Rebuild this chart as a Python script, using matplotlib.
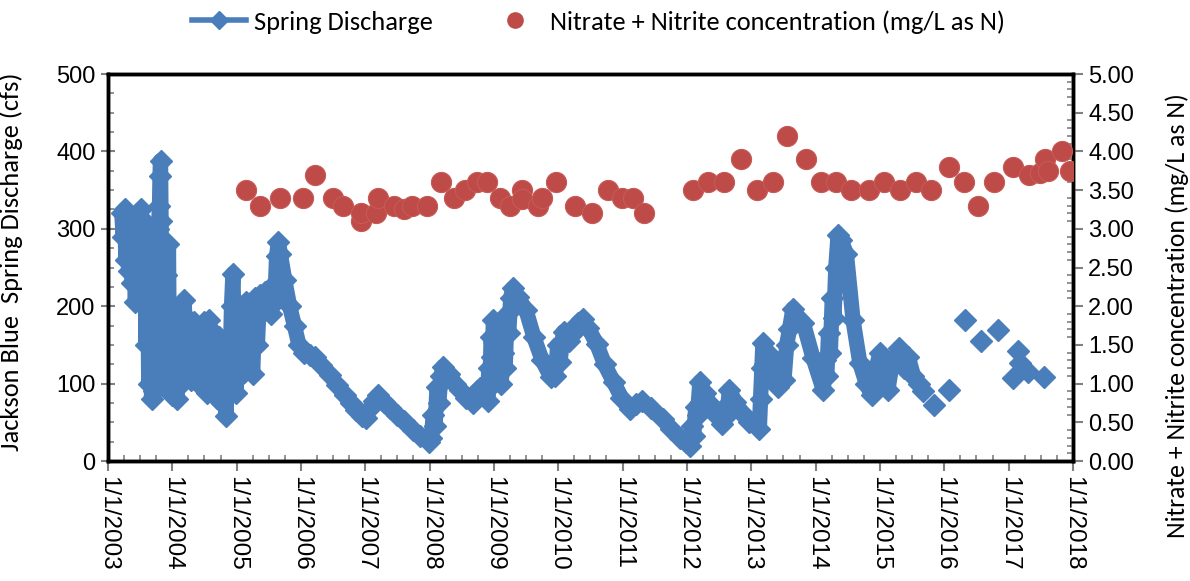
import matplotlib
matplotlib.use("Agg")
import matplotlib.pyplot as plt
import matplotlib.dates as mdates
from matplotlib.lines import Line2D
from matplotlib.ticker import MultipleLocator, FuncFormatter
import pandas as pd

# ── Spring discharge (cfs), continuous record ─────────────────────
discharge_dates = [
    # 2003
    "2003-03-20", "2003-03-28", "2003-04-05", "2003-04-12", "2003-04-20", "2003-04-28",
    "2003-05-08", "2003-05-18", "2003-05-28", "2003-06-05", "2003-06-15", "2003-06-25",
    "2003-07-05", "2003-07-15", "2003-07-25", "2003-08-05", "2003-08-12", "2003-08-20",
    "2003-08-28", "2003-09-05", "2003-09-12", "2003-09-20", "2003-09-28", "2003-10-06",
    "2003-10-14", "2003-10-20", "2003-10-23", "2003-10-26", "2003-10-29", "2003-11-05",
    "2003-11-12", "2003-11-20", "2003-11-28", "2003-12-04", "2003-12-10", "2003-12-16",
    "2003-12-22", "2003-12-31",
    # 2004
    "2004-01-05", "2004-01-15", "2004-01-28", "2004-02-10", "2004-02-22", "2004-03-02",
    "2004-03-08", "2004-03-22", "2004-04-05", "2004-04-18", "2004-05-01", "2004-05-15",
    "2004-06-01", "2004-06-15", "2004-07-01", "2004-07-15", "2004-07-28", "2004-08-10",
    "2004-08-25", "2004-09-08", "2004-09-22", "2004-10-08", "2004-10-20", "2004-10-31",
    "2004-11-12", "2004-11-22", "2004-12-02", "2004-12-10", "2004-12-18", "2004-12-28",
    # 2005
    "2005-01-08", "2005-01-18", "2005-01-30", "2005-02-10", "2005-02-22", "2005-03-05",
    "2005-03-18", "2005-04-01", "2005-04-15", "2005-04-28", "2005-05-10", "2005-05-25",
    "2005-06-08", "2005-06-20", "2005-07-01", "2005-07-12", "2005-07-25", "2005-08-05",
    "2005-08-15", "2005-08-25", "2005-09-05", "2005-09-30", "2005-10-28", "2005-11-25",
    "2005-12-20",
    # 2006
    "2006-01-20", "2006-02-20", "2006-03-20", "2006-04-25", "2006-06-15", "2006-07-25",
    "2006-09-05", "2006-10-10", "2006-11-10", "2006-12-15",
    # 2007
    "2007-01-05", "2007-02-01", "2007-02-20", "2007-03-14", "2007-04-15", "2007-05-20",
    "2007-06-28", "2007-08-10", "2007-10-01", "2007-11-10", "2007-12-31",
    # 2008
    "2008-01-10", "2008-01-22", "2008-02-01", "2008-02-12", "2008-02-22", "2008-03-05",
    "2008-03-18", "2008-04-20", "2008-05-25", "2008-06-20", "2008-07-25", "2008-09-01",
    "2008-09-25", "2008-10-15", "2008-11-05", "2008-11-25", "2008-12-02", "2008-12-08",
    "2008-12-15", "2008-12-22", "2008-12-28",
    # 2009
    "2009-01-10", "2009-01-25", "2009-02-10", "2009-02-22", "2009-03-05", "2009-03-15",
    "2009-03-25", "2009-04-05", "2009-04-16", "2009-05-15", "2009-07-01", "2009-08-15",
    "2009-10-01", "2009-11-20", "2009-12-05", "2009-12-15", "2009-12-28",
    # 2010
    "2010-01-10", "2010-01-30", "2010-03-01", "2010-03-25", "2010-04-20", "2010-05-18",
    "2010-06-20", "2010-08-07", "2010-09-20", "2010-11-10", "2010-12-25",
    # 2011
    "2011-02-10", "2011-03-20", "2011-04-20", "2011-06-10", "2011-08-18", "2011-10-01",
    "2011-11-20", "2011-12-25",
    # 2012
    "2012-01-18", "2012-01-28", "2012-02-08", "2012-02-20", "2012-03-01", "2012-03-14",
    "2012-04-10", "2012-05-15", "2012-06-20", "2012-07-20", "2012-08-05", "2012-08-15",
    "2012-08-29", "2012-10-01", "2012-11-10", "2012-12-20",
    # 2013
    "2013-02-15", "2013-02-22", "2013-03-01", "2013-03-07", "2013-03-20", "2013-04-05",
    "2013-04-25", "2013-06-01", "2013-06-20", "2013-07-05", "2013-07-20", "2013-08-05",
    "2013-08-25", "2013-09-25", "2013-10-23", "2013-12-17",
    # 2014
    "2014-02-13", "2014-02-25", "2014-03-05", "2014-03-15", "2014-03-25", "2014-04-05",
    "2014-04-15", "2014-04-25", "2014-05-08", "2014-05-25", "2014-06-24", "2014-08-01",
    "2014-09-09", "2014-10-15", "2014-11-14", "2014-12-05", "2014-12-31",
    # 2015
    "2015-01-25", "2015-02-15", "2015-03-10", "2015-04-20", "2015-05-15", "2015-06-10",
    "2015-07-10", "2015-08-10", "2015-09-01",
]
discharge_cfs = [
    # 2003
    320, 290, 325, 260, 300, 245,
    318, 230, 280, 205, 300, 215,
    325, 240, 310, 150, 290, 100,
    260, 80, 200, 90, 280, 120,
    300, 330, 368, 388, 310, 190,
    280, 110, 240, 120, 280, 100,
    200, 85,
    # 2004
    178, 95, 80, 160, 100, 190,
    208, 120, 175, 105, 180, 110,
    170, 95, 180, 88, 182, 100,
    165, 82, 160, 75, 140, 58,
    150, 100, 200, 242, 150, 88,
    # 2005
    180, 110, 200, 115, 205, 120,
    195, 112, 210, 150, 215, 192,
    218, 195, 222, 190, 225, 205,
    265, 283, 268, 234, 200, 174,
    150,
    # 2006
    139, 137, 135, 124, 111, 98,
    85, 75, 66, 58,
    # 2007
    56, 70, 78, 85, 76, 68,
    60, 52, 40, 32, 25,
    # 2008
    30, 60, 45, 95, 75, 110,
    122, 112, 100, 92, 82, 75,
    90, 94, 85, 78, 120, 95,
    160, 135, 182,
    # 2009
    160, 125, 100, 140, 120, 190,
    165, 210, 223, 212, 195, 160,
    130, 108, 125, 110, 150,
    # 2010
    128, 167, 155, 165, 178, 184,
    172, 151, 125, 102, 82,
    # 2011
    67, 74, 78, 68, 54, 42,
    30, 24,
    # 2012
    20, 45, 32, 70, 60, 102,
    88, 72, 58, 48, 70, 60,
    92, 76, 62, 50,
    # 2013
    42, 80, 120, 152, 125, 140,
    112, 96, 130, 105, 150, 170,
    197, 185, 178, 133,
    # 2014
    92, 130, 110, 165, 140, 210,
    185, 250, 292, 285, 268, 182,
    126, 100, 85, 115, 139,
    # 2015
    105, 92, 125, 146, 120, 135,
    110, 100, 90,
]

# ── Spring discharge (cfs), isolated later measurements ───────────
sparse_dates = ["2015-11-02", "2016-01-30", "2016-04-30", "2016-07-30", "2016-10-30",
                "2017-01-23", "2017-02-21", "2017-03-07", "2017-04-23", "2017-07-23"]
sparse_cfs = [72, 92, 182, 155, 169, 107, 142, 126, 115, 108]

# ── Nitrate + nitrite (mg/L as N) ─────────────────────────────────
nitrate_dates = [
    "2005-02-21", "2005-05-12", "2005-09-06", "2006-01-11", "2006-03-21", "2006-07-01",
    "2006-08-25", "2006-12-08", "2006-12-10", "2007-03-03", "2007-03-14", "2007-06-13",
    "2007-08-08", "2007-09-20", "2007-12-17", "2008-03-07", "2008-05-19", "2008-07-17",
    "2008-09-27", "2008-11-24", "2009-02-06", "2009-04-01", "2009-06-06", "2009-06-10",
    "2009-09-09", "2009-10-01", "2009-12-21", "2010-04-08", "2010-07-08", "2010-10-12",
    "2010-12-28", "2011-03-03", "2011-05-04", "2012-02-07", "2012-05-01", "2012-07-30",
    "2012-11-02", "2013-02-04", "2013-05-01", "2013-07-24", "2013-11-07", "2014-01-31",
    "2014-04-26", "2014-07-23", "2014-10-29", "2015-01-25", "2015-04-23", "2015-07-24",
    "2015-10-19", "2016-01-30", "2016-04-23", "2016-07-13", "2016-10-12", "2017-01-26",
    "2017-04-27", "2017-06-28", "2017-07-27", "2017-08-14", "2017-10-31", "2017-12-13",
]
nitrate_mgl = [
    3.50, 3.30, 3.40, 3.40, 3.70, 3.40,
    3.30, 3.10, 3.20, 3.20, 3.40, 3.30,
    3.25, 3.30, 3.30, 3.60, 3.40, 3.50,
    3.60, 3.60, 3.40, 3.30, 3.50, 3.38,
    3.30, 3.40, 3.60, 3.30, 3.20, 3.50,
    3.40, 3.40, 3.20, 3.50, 3.60, 3.60,
    3.90, 3.50, 3.60, 4.20, 3.90, 3.60,
    3.60, 3.50, 3.50, 3.60, 3.50, 3.60,
    3.50, 3.80, 3.60, 3.30, 3.60, 3.80,
    3.70, 3.72, 3.90, 3.75, 4.00, 3.75,
]

BLUE = "#4A7EBB"
RED = "#BE4B48"
LABEL_FONT = ["Carlito", "Liberation Sans Narrow", "Liberation Sans", "DejaVu Sans"]
TICK_FONT = ["Liberation Sans", "DejaVu Sans"]

fig = plt.figure(figsize=(11.9, 5.81), dpi=100)
ax = fig.add_axes([0.0908, 0.2065, 0.8109, 0.6661])
ax2 = ax.twinx()

d_q = pd.to_datetime(discharge_dates)
d_s = pd.to_datetime(sparse_dates)
d_n = pd.to_datetime(nitrate_dates)

# thick band + diamonds, mimicking the dense daily markers
ax.plot(d_q, discharge_cfs, color=BLUE, lw=11, solid_joinstyle="round",
        solid_capstyle="round", marker="D", ms=11, zorder=3)
ax.plot(d_s, sparse_cfs, color=BLUE, lw=0, marker="D", ms=11.5, zorder=3)

ax2.plot(d_n, nitrate_mgl, ls="none", marker="o", ms=14.5, color=RED,
         markeredgecolor="#C65A57", markeredgewidth=0.8, zorder=4)

# ── Axes limits and ticks ─────────────────────────────────────────
ax.set_xlim(pd.Timestamp("2003-01-01"), pd.Timestamp("2018-01-01"))
ax.set_ylim(0, 500)
ax2.set_ylim(0, 5)

ax.xaxis.set_major_locator(mdates.YearLocator())
ax.xaxis.set_minor_locator(mdates.MonthLocator(bymonth=[1, 4, 7, 10]))
ax.xaxis.set_major_formatter(FuncFormatter(
    lambda v, pos: "{0.month}/{0.day}/{0.year}".format(mdates.num2date(v))))
ax.yaxis.set_major_locator(MultipleLocator(100))
ax.yaxis.set_minor_locator(MultipleLocator(25))
ax2.yaxis.set_major_locator(MultipleLocator(0.5))
ax2.yaxis.set_minor_locator(MultipleLocator(0.1))
ax2.yaxis.set_major_formatter(FuncFormatter(lambda v, pos: f"{v:.2f}"))

tick_col = "#808080"
ax.tick_params(axis="x", which="major", direction="out", length=7, width=1.5,
               color=tick_col, labelsize=17.5, pad=4, labelrotation=-90)
ax.tick_params(axis="x", which="minor", direction="in", length=4, width=1.2, color=tick_col)
ax.tick_params(axis="y", which="major", direction="inout", length=10, width=1.5,
               color=tick_col, labelsize=17, pad=4)
ax.tick_params(axis="y", which="minor", direction="in", length=4, width=1.2, color=tick_col)
ax2.tick_params(axis="y", which="major", direction="out", length=7, width=1.5,
                color=tick_col, labelsize=17, pad=4)
ax2.tick_params(axis="y", which="minor", direction="in", length=4, width=1.2, color=tick_col)
for lab in ax.get_xticklabels() + ax.get_yticklabels() + ax2.get_yticklabels():
    lab.set_family(TICK_FONT)
for lab in ax.get_xticklabels():
    lab.set_va("top")
    lab.set_ha("center")

for a in (ax, ax2):
    for s in a.spines.values():
        s.set_color("black")
        s.set_linewidth(2.5)

ax.set_ylabel("Jackson Blue  Spring Discharge (cfs)", fontsize=19, family=LABEL_FONT)
ax.yaxis.set_label_coords(-0.088, 0.515)
ax2.set_ylabel("Nitrate + Nitrite concentration (mg/L as N)", fontsize=18.5, family=LABEL_FONT)
ax2.yaxis.set_label_coords(1.096, 0.375)

# ── Legend above the plot ─────────────────────────────────────────
handles = [
    Line2D([], [], color=BLUE, lw=4, marker="D", ms=9),
    Line2D([], [], ls="none", color=RED, marker="o", ms=11),
]
labels = ["Spring Discharge", "Nitrate + Nitrite concentration (mg/L as N)"]
fig.legend(handles, labels, loc="upper center", bbox_to_anchor=(0.503, 1.01), ncol=2,
           frameon=False, handlelength=2.05, columnspacing=2.1, handletextpad=0.3,
           borderaxespad=0.2, prop={"family": LABEL_FONT, "size": 19})

fig.savefig("out.png", dpi=100)
